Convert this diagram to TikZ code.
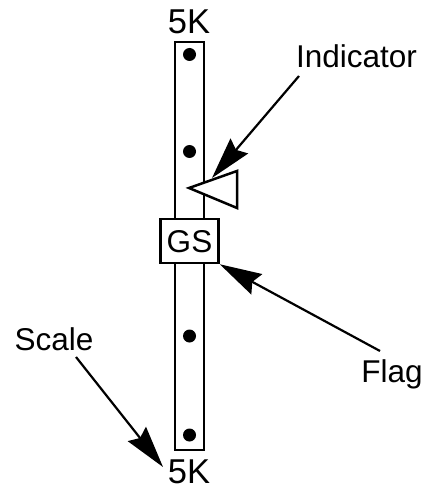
\documentclass[tikz,border=0pt]{standalone}
\usepackage{fontspec}
\setmainfont{Liberation Sans}
\usetikzlibrary{arrows.meta}

\begin{document}
\begin{tikzpicture}[x=1pt,y=-1pt,
                every node/.style = {font=\fontsize{31.5}{36}\selectfont, inner sep=0pt},
                label/.style = {anchor=base},
                limit/.style = {anchor=base, font=\fontsize{34.5}{38}\selectfont},
                hole/.style = {circle, fill=black, minimum size=13pt},
                outline/.style = {line width=2.5pt},
                pointer/.style = {line width=2.2pt, -{Stealth[length=42pt,width=23pt,inset=5pt]}}
                ]
                \useasboundingbox (0,0) rectangle (422,489);
                \node[draw, outline, minimum width=29pt, minimum height=408pt] (bar) at (189.5,246) {};
                \node[hole] (hole1) at (189.5,54.5) {};
                \node[hole] (hole2) at (189.5,151.5) {};
                \node[hole] (hole3) at (189.5,336) {};
                \node[hole] (hole4) at (189.5,435) {};
                \node[limit] (top) at (189,34) {5K};
                \node[limit] (bottom) at (189,483) {5K};
                % indicator
                \coordinate (tip) at (189,188);
                \coordinate (upper) at (237,171);
                \coordinate (lower) at (237,208);
                \draw[outline, fill=white, line join=miter] (tip) -- (upper) -- (lower) -- cycle;
                % flag
                \node[draw, outline, fill=white, minimum width=58pt, minimum height=44pt,
                      text height=23pt, text depth=0pt] (flagbox) at (189.5,241) {GS};
                % labels
                \node[label] (indicator) at (356.5,68) {Indicator};
                \node[label] (flag) at (392,382) {Flag};
                \node[label] (scale) at (54,350) {Scale};
                \coordinate (indicatorstart) at (299,76);
                \coordinate (indicatorend) at (212,178);
                \coordinate (flagstart) at (380,351);
                \coordinate (scalestart) at (76,357);
                \coordinate (scaleend) at (163,467);
                \draw[pointer] (indicatorstart) -- (indicatorend);
                \draw[pointer] (flagstart) -- (flagbox.south east);
                \draw[pointer] (scalestart) -- (scaleend);
            \end{tikzpicture}
\end{document}
